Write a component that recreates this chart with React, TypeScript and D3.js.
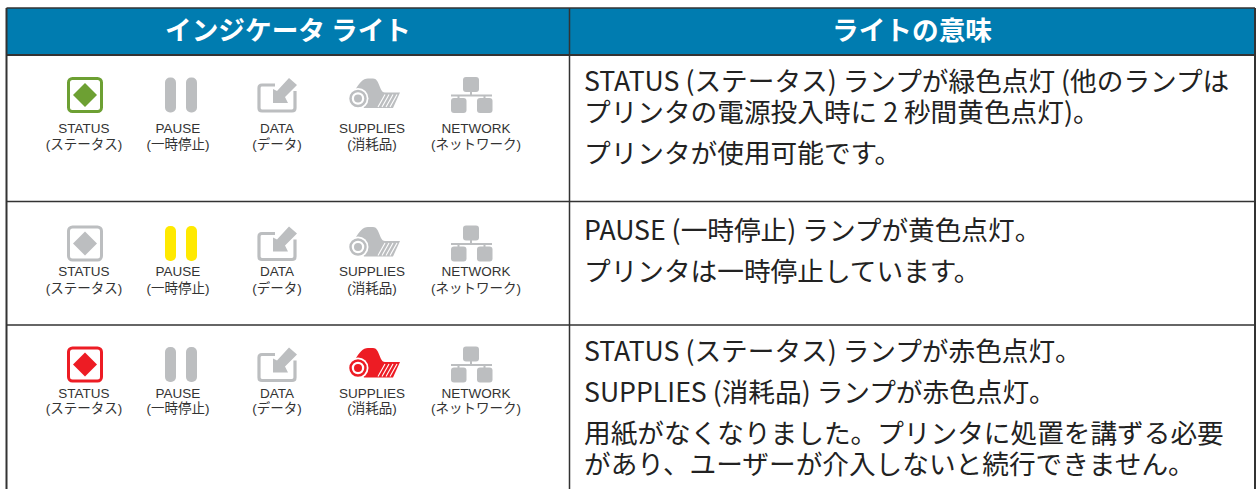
import { useEffect, useRef } from "react";
import * as d3 from "d3";

const headers = ["インジケータ ライト", "ライトの意味"];
const indicators = ["STATUS", "PAUSE", "DATA", "SUPPLIES", "NETWORK"];
const indicatorLabels = ["(ステータス)", "(一時停止)", "(データ)", "(消耗品)", "(ネットワーク)"];
const rowColors = [
  ["#6da033", "#bcbec0", "#bcbec0", "#bcbec0", "#bcbec0"],
  ["#bcbec0", "#ffe900", "#bcbec0", "#bcbec0", "#bcbec0"],
  ["#ed1c24", "#bcbec0", "#bcbec0", "#ed1c24", "#bcbec0"],
];
const rowText = [
  [
    ["STATUS (ステータス) ランプが緑色点灯 (他のランプは", "プリンタの電源投入時に 2 秒間黄色点灯)。"],
    ["プリンタが使用可能です。"],
  ],
  [["PAUSE (一時停止) ランプが黄色点灯。"], ["プリンタは一時停止しています。"]],
  [
    ["STATUS (ステータス) ランプが赤色点灯。"],
    ["SUPPLIES (消耗品) ランプが赤色点灯。"],
    ["用紙がなくなりました。プリンタに処置を講ずる必要", "があり、ユーザーが介入しないと続行できません。"],
  ],
];

const FONT = "'Noto Sans CJK JP', 'Noto Sans', sans-serif";
const LABEL_FONT = "'Liberation Sans', 'Noto Sans CJK JP', sans-serif";
const BLUE = "#007cb0";
const LINE = "#333333";

type G = d3.Selection<SVGGElement, unknown, null, undefined>;

// each icon is drawn around its own centre
function drawIcon(g: G, name: string, color: string) {
  if (name === "STATUS") {
    g.append("rect").attr("x", -16.5).attr("y", -16.5).attr("width", 33).attr("height", 33).attr("rx", 4)
      .attr("fill", "none").attr("stroke", color).attr("stroke-width", 3);
    g.append("path").attr("d", "M0,-12L12,0L0,12L-12,0Z").attr("fill", color);
  } else if (name === "PAUSE") {
    [-16, 5].forEach((x) => {
      g.append("rect").attr("x", x).attr("y", -17.5).attr("width", 11).attr("height", 35).attr("rx", 5).attr("fill", color);
    });
  } else if (name === "DATA") {
    g.append("path").attr("d", "M-2,-10L-15,-10Q-18,-10 -18,-7L-18,13Q-18,16 -15,16L15,16Q18,16 18,13L18,-4")
      .attr("fill", "none").attr("stroke", color).attr("stroke-width", 3.2);
    g.append("path").attr("d", "M12,-17L20,-10L8,2L11,8L-4,8L-4,-6L0,-4Z").attr("fill", color);
  } else if (name === "SUPPLIES") {
    g.append("path").attr("d", "M-17,-4.5C-13,-12 -9,-16.5 -4,-16.5L1,-16.5C8,-16.5 7,-2.5 13,-2.5L28,-2.5L21,13L-8,13Z").attr("fill", color);
    g.append("circle").attr("cx", -14).attr("cy", 3.5).attr("r", 10.5).attr("fill", "#fff");
    g.append("circle").attr("cx", -14).attr("cy", 3.5).attr("r", 7.5).attr("fill", "#fff").attr("stroke", color).attr("stroke-width", 2.5);
    g.append("circle").attr("cx", -14).attr("cy", 3.5).attr("r", 4).attr("fill", color);
    [13, 17, 21, 25].forEach((x) => {
      g.append("line").attr("x1", x).attr("y1", -0.5).attr("x2", x - 7).attr("y2", 12).attr("stroke", "#fff").attr("stroke-width", 1.1);
    });
  } else {
    g.append("rect").attr("x", -9).attr("y", -18).attr("width", 16).attr("height", 15).attr("rx", 3).attr("fill", color);
    g.append("rect").attr("x", -2).attr("y", -4).attr("width", 2).attr("height", 5).attr("fill", color);
    g.append("rect").attr("x", -21).attr("y", -0.5).attr("width", 41).attr("height", 2).attr("fill", color);
    [-21, 5].forEach((x) => {
      g.append("rect").attr("x", x).attr("y", 3).attr("width", 15.5).attr("height", 15).attr("rx", 3).attr("fill", color);
      g.append("rect").attr("x", x + 6.5).attr("y", 1).attr("width", 2).attr("height", 3).attr("fill", color);
    });
  }
}

const App = () => {
  const svgRef = useRef<SVGSVGElement>(null);

  useEffect(() => {
    if (!svgRef.current) return;
    const svg = d3.select(svgRef.current);
    svg.selectAll("*").remove();

    const width = 1258;
    const height = 489;
    svg.attr("width", width).attr("height", height);

    const left = 6.5;
    const mid = 569.5;
    const right = 1255;
    const rows = [8, 55, 201.5, 325, 489];

    svg.append("rect").attr("width", width).attr("height", height).attr("fill", "#fff");

    // Header
    svg.append("rect").attr("x", left).attr("y", rows[0]).attr("width", right - left).attr("height", rows[1] - rows[0]).attr("fill", BLUE);
    headers.forEach((h, i) => {
      svg.append("text")
        .attr("x", i === 0 ? 288 : 912)
        .attr("y", 40)
        .attr("text-anchor", "middle")
        .attr("font-family", FONT)
        .attr("font-size", 26.67)
        .attr("font-weight", 700)
        .attr("fill", "#fff")
        .text(h);
    });

    // Grid lines
    const line = (x1: number, y1: number, x2: number, y2: number, w = 1.5) =>
      svg.append("line").attr("x1", x1).attr("y1", y1).attr("x2", x2).attr("y2", y2).attr("stroke", LINE).attr("stroke-width", w);
    line(left, rows[0], right, rows[0]);
    line(left, rows[1], right, rows[1], 2);
    line(left, rows[2], right, rows[2]);
    line(left, rows[3], right, rows[3]);
    line(left, rows[0], left, height, 2);
    line(mid, rows[0], mid, height);
    line(right, rows[0], right, height, 2);

    const iconXs = [85, 181, 277, 372, 472];
    const labelXs = [84, 178, 277, 372, 476];
    const iconY = [95, 243.5, 364.5];
    const labelY = [[133, 149], [276, 293], [398, 413]];

    rowColors.forEach((colors, r) => {
      indicators.forEach((name, i) => {
        const g = svg.append("g").attr("transform", `translate(${iconXs[i]},${iconY[r]})`);
        drawIcon(g as unknown as G, name, colors[i]);
        [name, indicatorLabels[i]].forEach((t, k) => {
          svg.append("text").attr("x", labelXs[i]).attr("y", labelY[r][k]).attr("text-anchor", "middle")
            .attr("font-family", LABEL_FONT).attr("font-size", 13.5).attr("fill", "#333").text(t);
        });
      });
    });

    // Right column
    const textTop = [91, 240, 361];
    const lineGap = 31;
    const paraGap = 41;
    rowText.forEach((paras, r) => {
      let y = textTop[r];
      paras.forEach((lines) => {
        lines.forEach((t, k) => {
          svg.append("text").attr("x", 584).attr("y", y).attr("font-family", FONT).attr("font-size", 26.67).attr("fill", "#222").text(t);
          if (k < lines.length - 1) y += lineGap;
        });
        y += paraGap;
      });
    });
  }, []);

  return <svg ref={svgRef} style={{ position: "absolute", left: 0, top: 0 }} />;
};

export default App;
